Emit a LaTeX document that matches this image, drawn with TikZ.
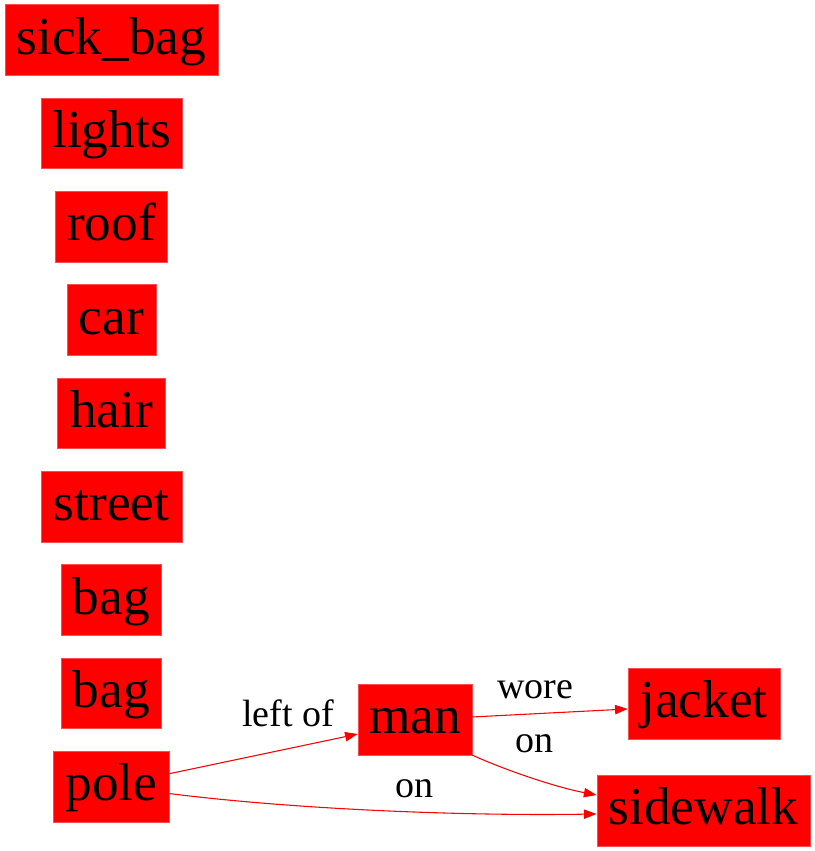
\documentclass[tikz,border=0pt]{standalone}
\usepackage{fontspec}
\setmainfont{Liberation Serif}
\usetikzlibrary{arrows.meta}
\begin{document}
\begin{tikzpicture}[x=0.75pt,y=-0.75pt,
  obj/.style={fill=red,draw=red!70!white,line width=0.4pt,inner sep=0pt,minimum height=53pt,
    text height=26pt,text depth=5pt,font=\fontsize{40}{40}\selectfont},
  rel/.style={draw=red,line width=0.8pt,-{Triangle[length=9.5pt,width=7pt]}},
  lbl/.style={anchor=base,inner sep=0pt,font=\fontsize{28.5}{28.5}\selectfont}]
\useasboundingbox (0,0) rectangle (815,851);
\node[obj,minimum width=160pt] (sickbag) at (111.5,40) {sick\_bag};
\node[obj,minimum width=106pt] (lights) at (111.5,133.3) {lights};
\node[obj,minimum width=84pt] (roof) at (111.5,226.6) {roof};
\node[obj,minimum width=67pt] (car) at (111.5,320) {car};
\node[obj,minimum width=81pt] (hair) at (111.5,413.3) {hair};
\node[obj,minimum width=105.5pt] (street) at (111.5,506.6) {street};
\node[obj,minimum width=75pt] (bag1) at (111.5,600) {bag};
\node[obj,minimum width=75pt] (bag2) at (111.5,693.3) {bag};
\node[obj,minimum width=87pt] (pole) at (111.5,786.6) {pole};
\node[obj,minimum width=85.5pt] (man) at (415,719.5) {man};
\node[obj,minimum width=114pt] (jacket) at (704,703.5) {jacket};
\node[obj,minimum width=160pt] (sidewalk) at (703.5,810.5) {sidewalk};
\draw[rel] ([yshift=9.75pt]pole.east) -- ([yshift=-10.9pt]man.west);
\draw[rel] ([yshift=-5.25pt]pole.east) .. controls (300,810) and (470,816) .. ([yshift=-2.6pt]sidewalk.west);
\draw[rel] ([yshift=1.9pt]man.east) -- ([yshift=-4.1pt]jacket.west);
\draw[rel] (man.south east) .. controls (505,770) and (555,787) .. ([yshift=11.6pt]sidewalk.west);
\node[lbl] (l1) at (288,726) {left of};
\node[lbl] (l2) at (535.5,698) {wore};
\node[lbl] (l3) at (534.5,752) {on};
\node[lbl] (l4) at (414,797) {on};
\end{tikzpicture}
\end{document}
